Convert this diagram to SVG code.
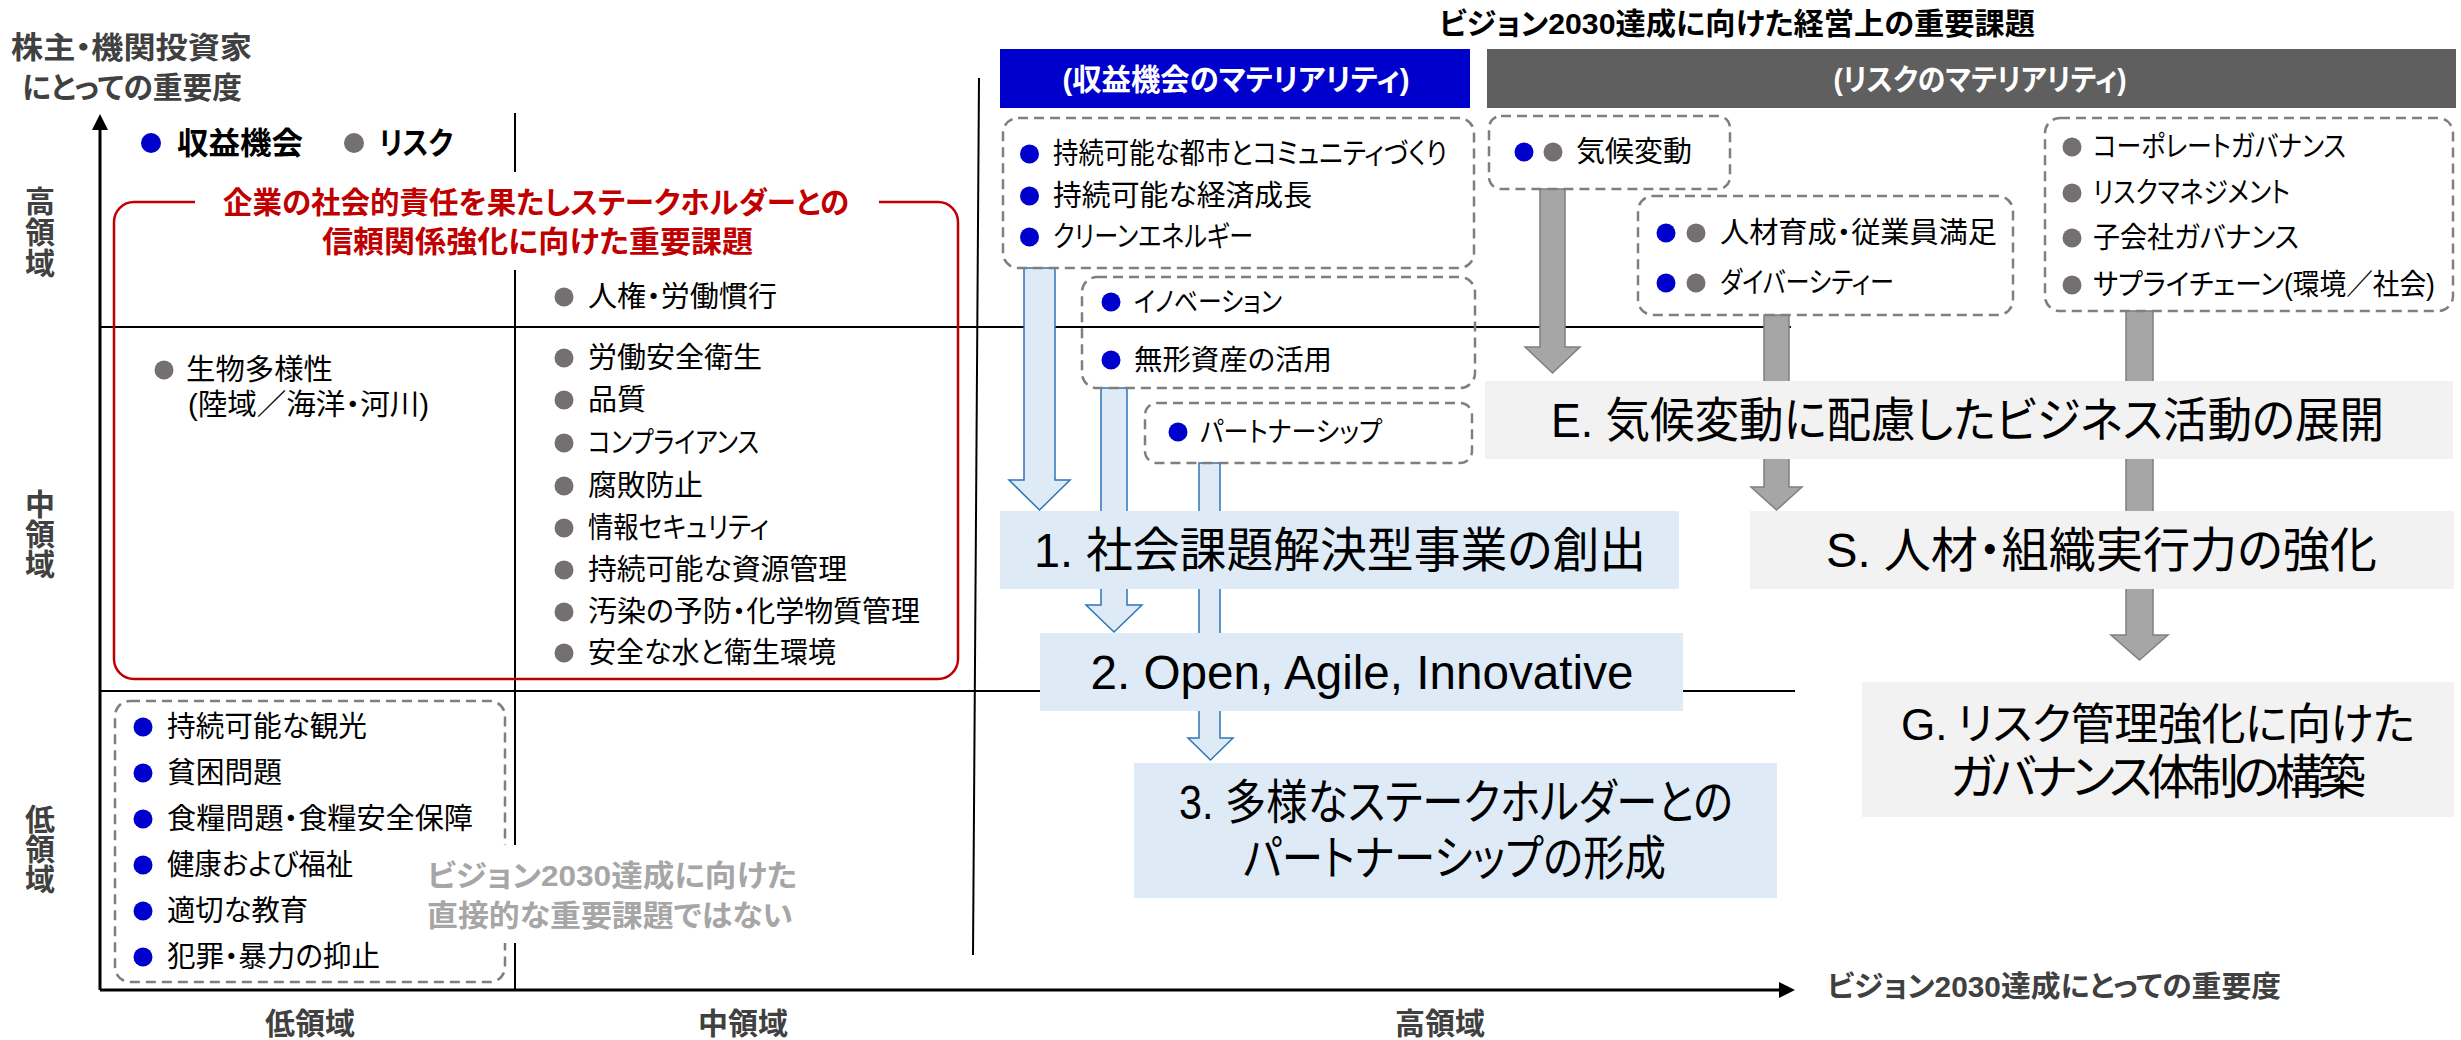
<svg xmlns="http://www.w3.org/2000/svg" width="2461" height="1040" viewBox="0 0 2461 1040">
<style>
text{font-family:"Liberation Sans","Noto Sans CJK JP",sans-serif;font-feature-settings:"palt" 1;dominant-baseline:central;}
.it{font-size:29px;fill:#000;}
.it2{font-size:28px;fill:#000;}
.b{font-weight:bold;}
.ax{font-size:30px;font-weight:bold;fill:#404040;text-anchor:middle;}
.big{font-size:48px;fill:#000;text-anchor:middle;}
.dash{fill:none;stroke:#7F7F7F;stroke-width:2.5;stroke-dasharray:10 6;}
.bd{fill:#0000CC;}
.gd{fill:#757070;}
.axis{stroke:#000;stroke-width:3;fill:none;}
.grid{stroke:#000;stroke-width:2;fill:none;}
.barrow{fill:#DEEBF7;stroke:#2E75B6;stroke-width:1.5;}
.garrow{fill:#A6A6A6;stroke:#7F7F7F;stroke-width:1.5;}
.lbox{fill:#DEEBF7;}
.gbox{fill:#F2F2F2;}
</style>
<rect width="2461" height="1040" fill="#fff"/>

<g id="grid">
  <line class="axis" x1="100" y1="990" x2="100" y2="126"/>
  <polygon points="100,114 92,130 108,130" fill="#000"/>
  <line class="axis" x1="100" y1="990" x2="1782" y2="990"/>
  <polygon points="1795,990 1779,982 1779,998" fill="#000"/>
  <line class="grid" x1="100" y1="327" x2="1791" y2="327"/>
  <line class="grid" x1="100" y1="691" x2="1795" y2="691"/>
  <line class="grid" x1="515" y1="113" x2="515" y2="990"/>
  <line class="grid" x1="979" y1="78" x2="973" y2="955"/>
</g>

<g id="axis-labels">
  <text class="b" x="11" y="47" font-size="30" fill="#404040" textLength="241" lengthAdjust="spacingAndGlyphs">株主・機関投資家</text>
  <text class="b" x="22" y="87" font-size="30" fill="#404040" textLength="220" lengthAdjust="spacingAndGlyphs">にとっての重要度</text>
  <text class="ax" x="40" y="201">高</text><text class="ax" x="40" y="232">領</text><text class="ax" x="40" y="263">域</text>
  <text class="ax" x="40" y="504">中</text><text class="ax" x="40" y="534">領</text><text class="ax" x="40" y="564">域</text>
  <text class="ax" x="40" y="819">低</text><text class="ax" x="40" y="849">領</text><text class="ax" x="40" y="879">域</text>
  <text class="ax" x="310" y="1023">低領域</text>
  <text class="ax" x="743" y="1023">中領域</text>
  <text class="ax" x="1440" y="1023">高領域</text>
  <text class="b" x="1827" y="987" font-size="29" fill="#404040" textLength="454" lengthAdjust="spacingAndGlyphs">ビジョン2030達成にとっての重要度</text>
</g>

<g id="legend">
  <circle class="bd" cx="151" cy="143" r="10"/>
  <text class="b" x="177" y="143" font-size="31" textLength="126" lengthAdjust="spacingAndGlyphs">収益機会</text>
  <circle class="gd" cx="354" cy="143" r="10"/>
  <text class="b" x="379" y="143" font-size="31" textLength="74" lengthAdjust="spacingAndGlyphs">リスク</text>
</g>

<g id="csr-group">
  <rect x="114" y="202" width="844" height="477" rx="20" fill="none" stroke="#C00000" stroke-width="2.5"/>
  <rect x="195" y="172" width="684" height="98" fill="#fff"/>
  <text class="b" x="536" y="202" font-size="30" fill="#C00000" text-anchor="middle" textLength="626" lengthAdjust="spacingAndGlyphs">企業の社会的責任を果たしステークホルダーとの</text>
  <text class="b" x="537.5" y="241" font-size="30" fill="#C00000" text-anchor="middle" textLength="431" lengthAdjust="spacingAndGlyphs">信頼関係強化に向けた重要課題</text>
</g>

<g id="mid-items">
  <circle class="gd" cx="564" cy="297" r="9.5"/><text class="it" x="588" y="297" textLength="189" lengthAdjust="spacingAndGlyphs">人権・労働慣行</text>
  <circle class="gd" cx="564" cy="358" r="9.5"/><text class="it" x="588" y="358" textLength="174" lengthAdjust="spacingAndGlyphs">労働安全衛生</text>
  <circle class="gd" cx="564" cy="400" r="9.5"/><text class="it" x="588" y="400" textLength="58" lengthAdjust="spacingAndGlyphs">品質</text>
  <circle class="gd" cx="564" cy="443" r="9.5"/><text class="it" x="588" y="443" textLength="171" lengthAdjust="spacingAndGlyphs">コンプライアンス</text>
  <circle class="gd" cx="564" cy="486" r="9.5"/><text class="it" x="588" y="486" textLength="115" lengthAdjust="spacingAndGlyphs">腐敗防止</text>
  <circle class="gd" cx="564" cy="528" r="9.5"/><text class="it" x="588" y="528" textLength="181" lengthAdjust="spacingAndGlyphs">情報セキュリティ</text>
  <circle class="gd" cx="564" cy="570" r="9.5"/><text class="it" x="588" y="570" textLength="259" lengthAdjust="spacingAndGlyphs">持続可能な資源管理</text>
  <circle class="gd" cx="564" cy="612" r="9.5"/><text class="it" x="588" y="612" textLength="332" lengthAdjust="spacingAndGlyphs">汚染の予防・化学物質管理</text>
  <circle class="gd" cx="564" cy="653" r="9.5"/><text class="it" x="588" y="653" textLength="248" lengthAdjust="spacingAndGlyphs">安全な水と衛生環境</text>
</g>

<g id="biodiversity">
  <circle class="gd" cx="164" cy="370" r="9.5"/><text class="it" x="186" y="370" textLength="147" lengthAdjust="spacingAndGlyphs">生物多様性</text>
  <text class="it" x="188" y="405" textLength="241" lengthAdjust="spacingAndGlyphs">(陸域／海洋・河川)</text>
</g>

<g id="low-items">
  <rect class="dash" x="115" y="701" width="390" height="281" rx="15"/>
  <circle class="bd" cx="143" cy="727" r="9.5"/><text class="it" x="167" y="727" textLength="200" lengthAdjust="spacingAndGlyphs">持続可能な観光</text>
  <circle class="bd" cx="143" cy="773" r="9.5"/><text class="it" x="167" y="773" textLength="115" lengthAdjust="spacingAndGlyphs">貧困問題</text>
  <circle class="bd" cx="143" cy="819" r="9.5"/><text class="it" x="167" y="819" textLength="306" lengthAdjust="spacingAndGlyphs">食糧問題・食糧安全保障</text>
  <circle class="bd" cx="143" cy="865" r="9.5"/><text class="it" x="167" y="865" textLength="186" lengthAdjust="spacingAndGlyphs">健康および福祉</text>
  <circle class="bd" cx="143" cy="911" r="9.5"/><text class="it" x="167" y="911" textLength="141" lengthAdjust="spacingAndGlyphs">適切な教育</text>
  <circle class="bd" cx="143" cy="957" r="9.5"/><text class="it" x="167" y="957" textLength="213" lengthAdjust="spacingAndGlyphs">犯罪・暴力の抑止</text>
</g>

<g id="not-direct-note">
  <rect x="420" y="845" width="380" height="98" fill="#fff"/>
  <text class="b" x="427" y="875" font-size="30" fill="#A6A6A6" textLength="370" lengthAdjust="spacingAndGlyphs">ビジョン2030達成に向けた</text>
  <text class="b" x="427" y="915" font-size="30" fill="#A6A6A6" textLength="366" lengthAdjust="spacingAndGlyphs">直接的な重要課題ではない</text>
</g>

<g id="header">
  <text class="b" x="1737" y="23" font-size="30" text-anchor="middle" textLength="596" lengthAdjust="spacingAndGlyphs">ビジョン2030達成に向けた経営上の重要課題</text>
  <rect x="1000" y="49" width="470" height="59" fill="#0000CC"/>
  <text class="b" x="1236" y="79" font-size="30" fill="#fff" text-anchor="middle" textLength="347" lengthAdjust="spacingAndGlyphs">(収益機会のマテリアリティ)</text>
  <rect x="1487" y="49" width="969" height="59" fill="#5F5F5F"/>
  <text class="b" x="1980" y="79" font-size="30" fill="#fff" text-anchor="middle" textLength="293" lengthAdjust="spacingAndGlyphs">(リスクのマテリアリティ)</text>
</g>

<g id="connectors">
  <path class="barrow" d="M1024,268 L1055,268 L1055,480 L1070,480 L1039.5,510 L1009,480 L1024,480 Z"/>
  <path class="barrow" d="M1101,388 L1127,388 L1127,605 L1142,605 L1114,632 L1086,605 L1101,605 Z"/>
  <path class="barrow" d="M1199,463 L1220,463 L1220,738 L1233,738 L1210.5,760 L1188,738 L1199,738 Z"/>
  <path class="garrow" d="M1540,189 L1565,189 L1565,347 L1580,347 L1552.5,373 L1525,347 L1540,347 Z"/>
  <path class="garrow" d="M1764,315 L1789,315 L1789,487 L1802,487 L1776.5,510 L1751,487 L1764,487 Z"/>
  <path class="garrow" d="M2126,311 L2153,311 L2153,635 L2168,635 L2139.5,660 L2111,635 L2126,635 Z"/>
</g>

<g id="opp-box-1">
  <rect class="dash" x="1003" y="118" width="471" height="150" rx="15"/>
  <circle class="bd" cx="1029.5" cy="154" r="9.5"/><text class="it" x="1053" y="154" textLength="394" lengthAdjust="spacingAndGlyphs">持続可能な都市とコミュニティづくり</text>
  <circle class="bd" cx="1029.5" cy="196" r="9.5"/><text class="it" x="1053" y="196" textLength="259" lengthAdjust="spacingAndGlyphs">持続可能な経済成長</text>
  <circle class="bd" cx="1029.5" cy="237" r="9.5"/><text class="it" x="1053" y="237" textLength="200" lengthAdjust="spacingAndGlyphs">クリーンエネルギー</text>
</g>
<g id="opp-box-2">
  <rect class="dash" x="1082" y="277" width="393" height="111" rx="15"/>
  <circle class="bd" cx="1111" cy="302" r="9.5"/><text class="it2" x="1134" y="302" textLength="148" lengthAdjust="spacingAndGlyphs">イノベーション</text>
  <circle class="bd" cx="1111" cy="360" r="9.5"/><text class="it2" x="1134" y="360" textLength="198" lengthAdjust="spacingAndGlyphs">無形資産の活用</text>
</g>
<g id="opp-box-3">
  <rect class="dash" x="1145" y="403" width="327" height="60" rx="12"/>
  <circle class="bd" cx="1178" cy="432" r="9.5"/><text class="it2" x="1200" y="432" textLength="182" lengthAdjust="spacingAndGlyphs">パートナーシップ</text>
</g>
<g id="risk-climate">
  <rect class="dash" x="1489" y="116" width="241" height="73" rx="12"/>
  <circle class="bd" cx="1524" cy="152" r="9.5"/><circle class="gd" cx="1553" cy="152" r="9.5"/>
  <text class="it" x="1576" y="152" textLength="116" lengthAdjust="spacingAndGlyphs">気候変動</text>
</g>
<g id="risk-people">
  <rect class="dash" x="1638" y="196" width="375" height="119" rx="15"/>
  <circle class="bd" cx="1666" cy="233" r="9.5"/><circle class="gd" cx="1696" cy="233" r="9.5"/>
  <text class="it" x="1720" y="233" textLength="277" lengthAdjust="spacingAndGlyphs">人材育成・従業員満足</text>
  <circle class="bd" cx="1666" cy="283" r="9.5"/><circle class="gd" cx="1696" cy="283" r="9.5"/>
  <text class="it" x="1720" y="283" textLength="174" lengthAdjust="spacingAndGlyphs">ダイバーシティー</text>
</g>
<g id="risk-governance">
  <rect class="dash" x="2045" y="118" width="408" height="193" rx="15"/>
  <circle class="gd" cx="2072" cy="147" r="9.5"/><text class="it" x="2093" y="147" textLength="253" lengthAdjust="spacingAndGlyphs">コーポレートガバナンス</text>
  <circle class="gd" cx="2072" cy="193" r="9.5"/><text class="it" x="2093" y="193" textLength="197" lengthAdjust="spacingAndGlyphs">リスクマネジメント</text>
  <circle class="gd" cx="2072" cy="238" r="9.5"/><text class="it" x="2093" y="238" textLength="206" lengthAdjust="spacingAndGlyphs">子会社ガバナンス</text>
  <circle class="gd" cx="2072" cy="285" r="9.5"/><text class="it" x="2093" y="285" textLength="342" lengthAdjust="spacingAndGlyphs">サプライチェーン(環境／社会)</text>
</g>

<g id="goal-1">
  <rect class="lbox" x="1000" y="511" width="679" height="78"/>
  <text class="big" x="1340" y="550" textLength="612" lengthAdjust="spacingAndGlyphs">1. 社会課題解決型事業の創出</text>
</g>
<g id="goal-2">
  <rect class="lbox" x="1040" y="633" width="643" height="78"/>
  <text class="big" x="1362" y="672" textLength="543" lengthAdjust="spacingAndGlyphs">2. Open, Agile, Innovative</text>
</g>
<g id="goal-3">
  <rect class="lbox" x="1134" y="763" width="643" height="135"/>
  <text class="big" x="1456" y="802" font-size="46" textLength="554" lengthAdjust="spacingAndGlyphs">3. 多様なステークホルダーとの</text>
  <text class="big" x="1454.5" y="858" font-size="46" textLength="423" lengthAdjust="spacingAndGlyphs">パートナーシップの形成</text>
</g>
<g id="goal-E">
  <rect class="gbox" x="1485" y="381" width="968" height="78"/>
  <text class="big" x="1967.5" y="420" textLength="833" lengthAdjust="spacingAndGlyphs">E. 気候変動に配慮したビジネス活動の展開</text>
</g>
<g id="goal-S">
  <rect class="gbox" x="1750" y="511" width="704" height="78"/>
  <text class="big" x="2101.5" y="550" textLength="551" lengthAdjust="spacingAndGlyphs">S. 人材・組織実行力の強化</text>
</g>
<g id="goal-G">
  <rect class="gbox" x="1862" y="682" width="592" height="135"/>
  <text x="1901" y="724" font-size="44" fill="#000">G.</text>
  <text x="1957" y="724" font-size="44" fill="#000" textLength="458">リスク管理強化に向けた</text>
  <text class="big" x="2158" y="777" font-size="44" textLength="416">ガバナンス体制の構築</text>
</g>
</svg>
